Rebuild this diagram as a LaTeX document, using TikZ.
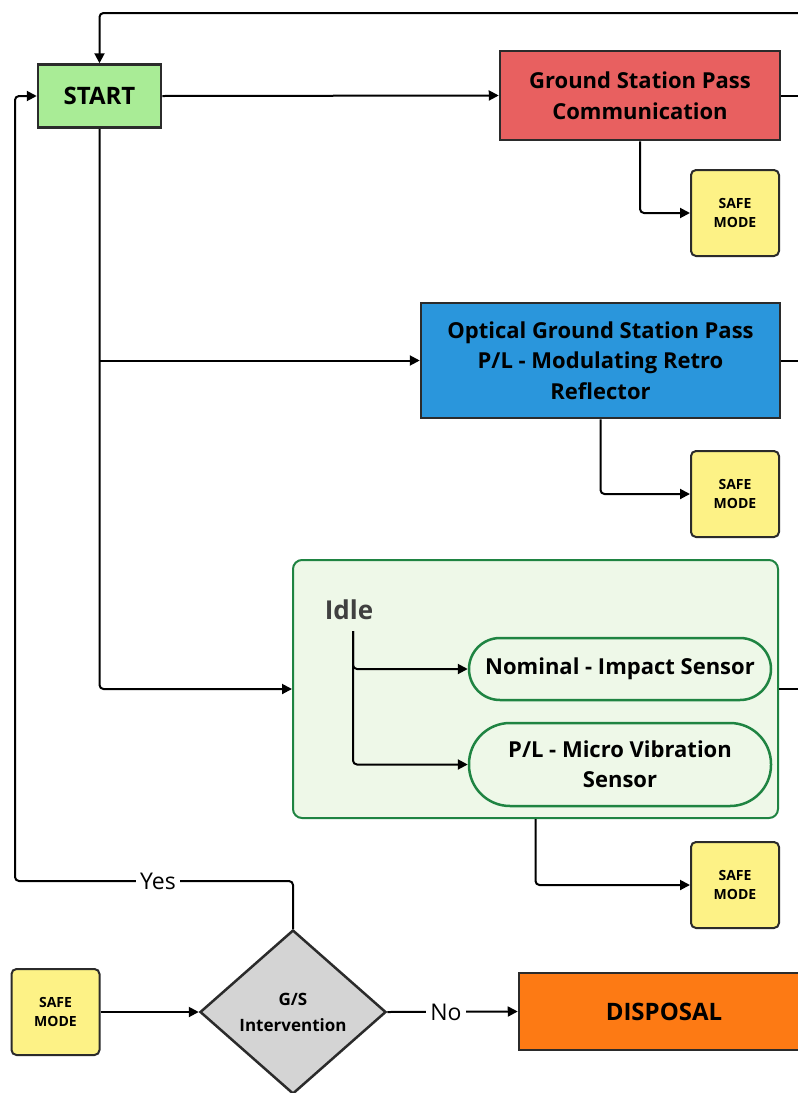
\documentclass[tikz,border=0pt]{standalone}
\usepackage{fontspec}
\setmainfont{Open Sans}
\usetikzlibrary{shapes.geometric,arrows.meta}
\definecolor{boxline}{HTML}{2B2B2B}
\definecolor{startg}{HTML}{A9EC96}
\definecolor{gsred}{HTML}{E86060}
\definecolor{optblue}{HTML}{2A96DC}
\definecolor{safey}{HTML}{FDF286}
\definecolor{idlefill}{HTML}{EEF8E8}
\definecolor{idleline}{HTML}{1F8442}
\definecolor{diagray}{HTML}{D4D4D4}
\definecolor{disporange}{HTML}{FD7A14}
\definecolor{idletext}{HTML}{404040}
\begin{document}
\begin{tikzpicture}[x=1pt,y=-1pt,
  box/.style={draw=boxline, line width=2.5pt, align=center, inner sep=0pt,
    font=\bfseries\fontsize{22}{30.5}\selectfont},
  bigbox/.style={box, font=\bfseries\fontsize{24}{30}\selectfont},
  safe/.style={draw=boxline, fill=safey, line width=2pt, rounded corners=5pt,
    minimum width=88pt, minimum height=86pt, inner sep=0pt, align=center,
    font=\bfseries\fontsize{14}{18.5}\selectfont},
  pill/.style={draw=idleline, fill=idlefill, line width=2.5pt, align=center, inner sep=0pt,
    minimum width=302pt, font=\bfseries\fontsize{22}{30}\selectfont},
  link/.style={line width=2pt, rounded corners=4pt},
  conn/.style={link, -{Triangle[length=10pt,width=10pt]}},
  lbl/.style={fill=white, inner sep=4pt, font=\fontsize{23}{26}\selectfont}]
\useasboundingbox (0,0) rectangle (798,1093);
\clip (0,0) rectangle (798,1093);
\fill[white] (0,0) rectangle (798,1093);

% nodes
\node[bigbox, fill=startg, minimum width=123pt, minimum height=63pt] (start) at (99.5,96) {START};
\node[box, fill=gsred, minimum width=280pt, minimum height=89pt] (gs) at (640,95.5) {Ground Station Pass\\Communication};
\node[safe] (safe1) at (735,213) {SAFE\\MODE};
\node[box, fill=optblue, minimum width=359pt, minimum height=115pt] (opt) at (600.5,360.5) {Optical Ground Station Pass\\P/L - Modulating Retro\\Reflector};
\node[safe] (safe2) at (735,494) {SAFE\\MODE};
\node[draw=idleline, fill=idlefill, line width=2pt, rounded corners=9pt, minimum width=485pt, minimum height=258pt, inner sep=0pt] (idle) at (535.5,689) {};
\node[text=idletext, font=\bfseries\fontsize{26}{30}\selectfont, inner sep=0pt] (idlelbl) at (349,610) {Idle};
\node[pill, minimum height=62pt, rounded corners=31pt] (nom) at (620,669) {Nominal - Impact Sensor};
\node[pill, minimum height=83pt, rounded corners=41pt] (mic) at (620,764.5) {P/L - Micro Vibration\\Sensor};
\node[safe] (safe3) at (735,885) {SAFE\\MODE};
\node[safe] (safe4) at (55.5,1012) {SAFE\\MODE};
\node[diamond, draw=boxline, fill=diagray, line width=2.5pt, minimum width=186pt, minimum height=164pt, aspect=1.13, inner sep=0pt, align=center, font=\bfseries\fontsize{17}{26}\selectfont] (dia) at (293,1012) {G/S\\Intervention};
\node[bigbox, fill=disporange, minimum width=290pt, minimum height=77pt] (disp) at (664,1011.5) {DISPOSAL};

% free ends beyond the right edge
\coordinate (topR) at (810,13);
\coordinate (gsR) at (810,95.5);
\coordinate (optR) at (810,360.5);
\coordinate (idleR) at (810,689);
\coordinate (itop) at (353,631);
\coordinate (yesL) at (15,881);

% connectors
\draw[conn] (topR) -| (start.north);
\draw[conn] (start.east) -- (gs.west);
\draw[link] (gs.east) -- (gsR);
\draw[conn] (gs.south) |- (safe1.west);
\draw[conn] (start.south) |- (idle.west);
\draw[conn] (start.south |- opt.west) -- (opt.west);
\draw[link] (opt.east) -- (optR);
\draw[conn] (opt.south) |- (safe2.west);
\draw[link] (idle.east) -- (idleR);
\draw[conn] (itop) |- (nom.west);
\draw[conn] (itop) |- (mic.west);
\draw[conn] (idle.south) |- (safe3.west);
\draw[conn] (dia.north) |- (yesL) |- (start.west);
\node[lbl] (yes) at (158,881) {Yes};
\draw[conn] (safe4.east) -- (dia.west);
\draw[conn] (dia.east) -- (disp.west);
\node[lbl] (no) at (446,1012) {No};
\end{tikzpicture}
\end{document}
